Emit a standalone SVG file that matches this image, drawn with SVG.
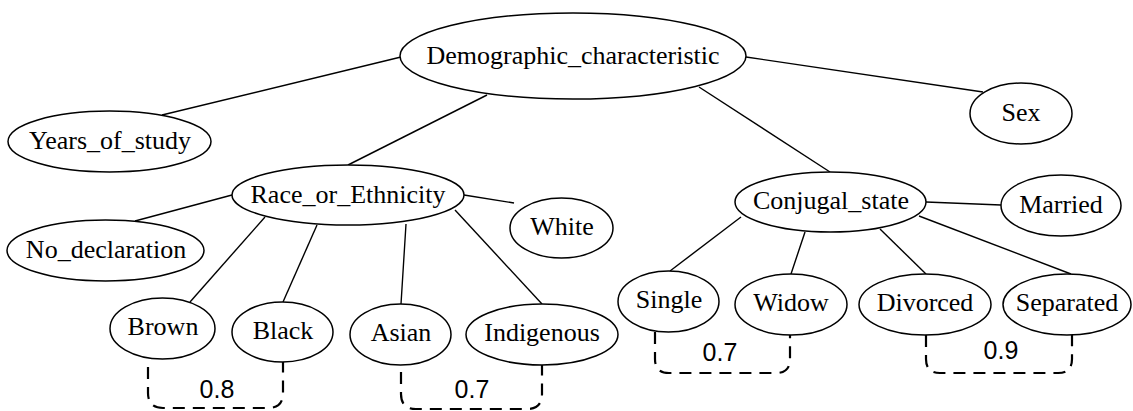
<svg xmlns="http://www.w3.org/2000/svg" width="1133" height="411" viewBox="0 0 1133 411">
<style>
.n ellipse{fill:#fff;stroke:#000;stroke-width:1.5}
.n text{font-family:"Liberation Serif","Times New Roman",serif;font-size:26px;fill:#000;text-anchor:middle}
#edges line{stroke:#000;stroke-width:1.4}
.br path{fill:none;stroke:#000;stroke-width:2.2;stroke-dasharray:12 8}
.br text{font-family:"Liberation Sans",Arial,sans-serif;font-size:25px;fill:#000;text-anchor:middle}
</style>
<rect width="1133" height="411" fill="#fff"/>
<g id="edges">
<line x1="162" y1="115" x2="401" y2="57"/>
<line x1="746" y1="57" x2="983" y2="92"/>
<line x1="487" y1="95" x2="348" y2="165"/>
<line x1="699" y1="87" x2="830" y2="172"/>
<line x1="135" y1="221" x2="232" y2="195"/>
<line x1="265" y1="217" x2="190" y2="302"/>
<line x1="317" y1="225" x2="283" y2="302"/>
<line x1="406" y1="224" x2="401" y2="304"/>
<line x1="455" y1="210" x2="542" y2="304"/>
<line x1="464" y1="195" x2="514" y2="203"/>
<line x1="926" y1="202" x2="1001" y2="205"/>
<line x1="741" y1="217" x2="670" y2="271"/>
<line x1="805" y1="232" x2="791" y2="274"/>
<line x1="880" y1="229" x2="926" y2="274"/>
<line x1="919" y1="216" x2="1071" y2="274"/>
</g>
<g id="demographic" class="n"><ellipse cx="573" cy="56" rx="173" ry="43"/><text x="573" y="64">Demographic_characteristic</text></g>
<g id="years" class="n"><ellipse cx="109.5" cy="141.5" rx="101.5" ry="30.5"/><text x="110" y="149">Years_of_study</text></g>
<g id="sex" class="n"><ellipse cx="1021" cy="113.5" rx="51" ry="30.5"/><text x="1021" y="121">Sex</text></g>
<g id="race" class="n"><ellipse cx="348" cy="195" rx="116" ry="30"/><text x="348" y="203">Race_or_Ethnicity</text></g>
<g id="nodecl" class="n"><ellipse cx="105.5" cy="250.5" rx="98.5" ry="30.5"/><text x="106" y="258">No_declaration</text></g>
<g id="white" class="n"><ellipse cx="561.5" cy="228" rx="51.5" ry="30"/><text x="562" y="235">White</text></g>
<g id="brown" class="n"><ellipse cx="162.5" cy="328.5" rx="52.5" ry="30.5"/><text x="163" y="335">Brown</text></g>
<g id="black" class="n"><ellipse cx="282.5" cy="332" rx="50.5" ry="30"/><text x="283" y="339">Black</text></g>
<g id="asian" class="n"><ellipse cx="400.5" cy="334.5" rx="50.5" ry="30.5"/><text x="401" y="341">Asian</text></g>
<g id="indigenous" class="n"><ellipse cx="542" cy="334.5" rx="76" ry="30.5"/><text x="542" y="341">Indigenous</text></g>
<g id="conjugal" class="n"><ellipse cx="830.5" cy="202" rx="95.5" ry="30"/><text x="831" y="209">Conjugal_state</text></g>
<g id="married" class="n"><ellipse cx="1061" cy="205.5" rx="60" ry="30.5"/><text x="1061" y="213">Married</text></g>
<g id="single" class="n"><ellipse cx="668.5" cy="301.5" rx="50.5" ry="30.5"/><text x="669" y="308">Single</text></g>
<g id="widow" class="n"><ellipse cx="791" cy="304.5" rx="56" ry="30.5"/><text x="791" y="311">Widow</text></g>
<g id="divorced" class="n"><ellipse cx="925" cy="304.5" rx="66" ry="30.5"/><text x="925" y="311">Divorced</text></g>
<g id="separated" class="n"><ellipse cx="1067" cy="304.5" rx="64" ry="30.5"/><text x="1067" y="311">Separated</text></g>
<g id="bracket1" class="br"><path d="M148,367 V393 Q148,408 163,408 H268 Q283,408 283,393 V362"/><text x="217" y="398">0.8</text></g>
<g id="bracket2" class="br"><path d="M401,372 V394 Q401,409 416,409 H527 Q542,409 542,394 V365"/><text x="472" y="398">0.7</text></g>
<g id="bracket3" class="br"><path d="M655,332 V359 Q655,373 669,373 H776 Q790,373 790,359 V335"/><text x="720" y="361">0.7</text></g>
<g id="bracket4" class="br"><path d="M926,335 V359 Q926,373 940,373 H1058 Q1072,373 1072,359 V335"/><text x="1001" y="359">0.9</text></g>
</svg>
